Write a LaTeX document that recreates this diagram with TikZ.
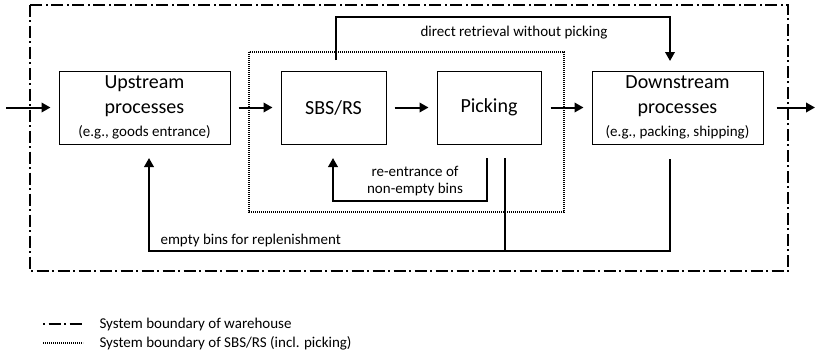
\documentclass[tikz,border=0pt]{standalone}
\usepackage{fontspec}
\setmainfont{Carlito}
\usetikzlibrary{arrows.meta}
\newcommand{\bigtxt}{\fontsize{20}{25}\selectfont}
\newcommand{\smalltxt}{\fontsize{15}{17}\selectfont}
\begin{document}
\begin{tikzpicture}[x=1pt,y=-1pt,
  box/.style={draw, line width=1pt, minimum height=73pt, inner sep=0pt, align=center},
  big/.style={font=\bigtxt},
  small/.style={font=\smalltxt},
  flow/.style={line width=2pt, -{Triangle[length=9pt,width=9.5pt]}},
  link/.style={line width=1.2pt},
  warehouse/.style={line width=2pt, dash pattern=on 12pt off 3.5pt on 2pt off 3.5pt},
  sbsline/.style={line width=2pt, dash pattern=on 1.3pt off 0.7pt}]
\useasboundingbox (0,0) rectangle (816,359);

% system boundaries
\draw[warehouse] (30,4.5) rectangle (788,271);
\draw[sbsline] (249,52) rectangle (564,212);

% process boxes
\node[box, big, minimum width=171pt] (up) at (144.5,107.5) {Upstream\\processes\\[-2pt]\smalltxt (e.g., goods entrance)};
\node[box, big, minimum width=105pt] (sbs) at (333.5,107.5) {SBS/RS};
\node[box, big, minimum width=104pt] (pick) at (489,107.5) {Picking};
\node[box, big, minimum width=171pt] (down) at (677.5,107.5) {Downstream\\processes\\[-2pt]\smalltxt (e.g., packing, shipping)};

% main material flow
\coordinate (in) at (6,107.5);
\coordinate (out) at (815,107.5);
\draw[flow] (in) -- ([xshift=-8pt]up.west);
\draw[flow] ([xshift=8pt]up.east) -- ([xshift=-8pt]sbs.west);
\draw[flow] ([xshift=8pt]sbs.east) -- ([xshift=-8pt]pick.west);
\draw[flow] ([xshift=9pt]pick.east) -- ([xshift=-8pt]down.west);
\draw[flow] ([xshift=13pt]down.east) -- (out);

% direct retrieval
\coordinate (dr0) at (336,60);
\coordinate (dr1) at (670,61);
\draw[link] (dr0) |- (336,17) -| (670,40);
\draw[flow] (670,17) -- (dr1);
\node[small] (drl) at (514,33) {direct retrieval without picking};

% re-entrance of non-empty bins
\coordinate (re0) at (487,158);
\coordinate (re1) at (333,158);
\draw[flow] (re0) |- (333,201) -- (re1);
\node[small, align=center] (rel) at (415,181.5) {re-entrance of\\non-empty bins};

% empty bins back to upstream
\coordinate (eb0) at (670,159);
\coordinate (eb1) at (149,158);
\coordinate (eb2) at (505,158);
\draw[flow] (eb0) |- (149,251) -- (eb1);
\draw[link] (eb2) -- (505,251);
\node[small, anchor=base west] (ebl) at (157,244) {empty bins for replenishment};

% legend
\draw[warehouse, dash phase=15.5pt] (43,324) -- (83,324);
\draw[sbsline, line width=1.5pt] (43,343) -- (83,343);
\node[small, anchor=west] (lg1) at (96,324) {System boundary of warehouse};
\node[small, anchor=west] (lg2) at (96,343) {System boundary of SBS/RS (incl. picking)};
\end{tikzpicture}
\end{document}
